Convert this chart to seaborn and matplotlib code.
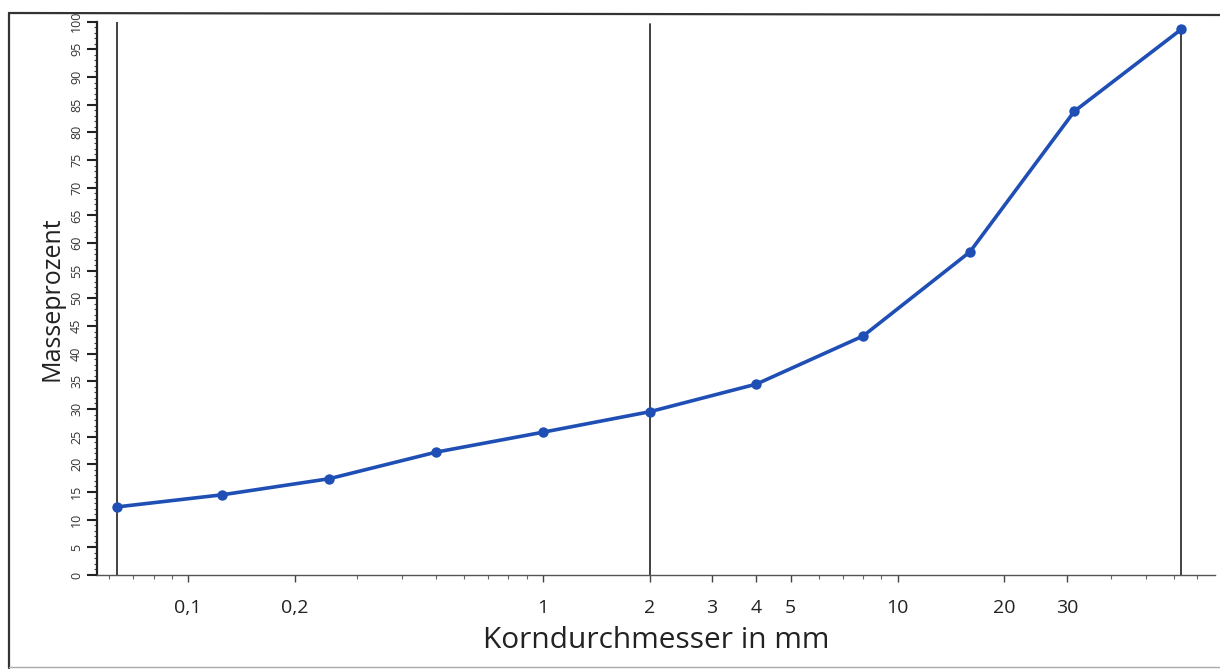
import matplotlib
matplotlib.use("Agg")
import matplotlib.pyplot as plt
import matplotlib.ticker as mticker
from matplotlib.lines import Line2D
import numpy as np
import pandas as pd
import seaborn as sns

# ---- data ----
sieve_mm = [0.063, 0.125, 0.25, 0.5, 1, 2, 4, 8, 16, 31.5, 63]
passing_pct = [12.3, 14.5, 17.4, 22.2, 25.8, 29.5, 34.5, 43.2, 58.4, 83.8, 98.6]
x_tick_vals = [0.1, 0.2, 1, 2, 3, 4, 5, 10, 20, 30]
x_tick_labels = ["0,1", "0,2", "1", "2", "3", "4", "5", "10", "20", "30"]
y_tick_vals = list(range(0, 101, 5))
boundary_mm = [0.063, 2, 63]
boundary_top = [100, 99.5, 98.6]

sns.set_style("ticks")
plt.rcParams["font.family"] = ["Open Sans", "DejaVu Sans"]

fig = plt.figure(figsize=(12.2, 6.69), dpi=100)
ax = fig.add_axes([97/1220, 1-575/669, (1215-97)/1220, (575-21.7)/669])

df = pd.DataFrame({"d": sieve_mm, "p": passing_pct})

for xv, top in zip(boundary_mm, boundary_top):
    ax.plot([xv, xv], [0, top], color="#333333", lw=1.3, zorder=1)

sns.lineplot(data=df, x="d", y="p", ax=ax, color="#1f4fb5", lw=2.6,
             marker="o", markersize=7.5, markeredgewidth=0, zorder=3)

ax.set_xscale("log")
ax.set_xlim(0.0554, 78.5)
ax.set_ylim(0, 100)

ax.xaxis.set_major_locator(mticker.FixedLocator(x_tick_vals))
ax.xaxis.set_major_formatter(mticker.FixedFormatter(x_tick_labels))
ax.xaxis.set_minor_locator(mticker.LogLocator(base=10, subs=np.arange(1, 10)*1.0, numticks=50))
ax.xaxis.set_minor_formatter(mticker.NullFormatter())

ax.yaxis.set_major_locator(mticker.FixedLocator(y_tick_vals))
ax.yaxis.set_minor_locator(mticker.MultipleLocator(1))

ax.tick_params(axis="x", which="major", length=5, width=1, color="#444444",
               labelsize=14, pad=12, labelcolor="#222222")
ax.tick_params(axis="x", which="minor", length=3, width=0.8, color="#666666")
ax.tick_params(axis="y", which="major", length=7, width=1.5, color="#222222",
               labelsize=9, pad=3, labelrotation=90, labelcolor="#333333")
ax.tick_params(axis="y", which="minor", length=2.5, width=0.8, color="#444444")
for lab in ax.get_yticklabels():
    lab.set_va("center")

for s in ["top", "right"]:
    ax.spines[s].set_visible(False)
ax.spines["left"].set_linewidth(1.6)
ax.spines["left"].set_color("#222222")
ax.spines["bottom"].set_linewidth(1.0)
ax.spines["bottom"].set_color("#555555")

ax.set_xlabel("Korndurchmesser in mm", fontsize=21.5, labelpad=7, color="#222222")
ax.set_ylabel("Masseprozent", fontsize=18, labelpad=4, color="#222222")

# outer frame
W, H = 1220, 669
frame_kw = dict(color="#333333", lw=1.6, transform=fig.transFigure)
fig.add_artist(Line2D([9/W, 9/W], [1-668/H, 1-13/H], **frame_kw))
fig.add_artist(Line2D([9/W, 1.0], [1-13/H, 1-15/H], **frame_kw))
fig.add_artist(Line2D([9/W, 1.0], [1-667/H, 1-667/H], color="#aaaaaa", lw=1.0,
                      transform=fig.transFigure))

fig.savefig("out.png", dpi=100)
